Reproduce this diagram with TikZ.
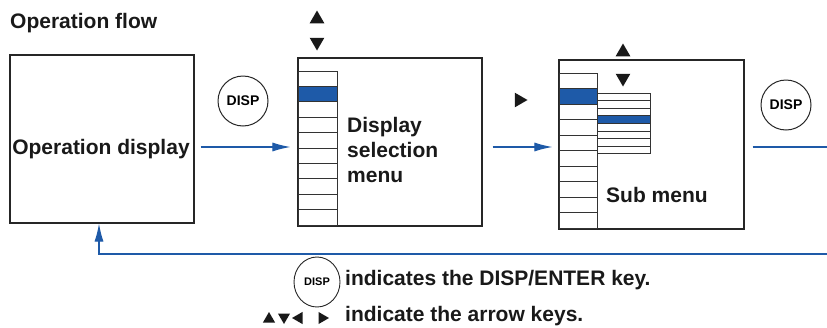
\documentclass[tikz,border=0pt]{standalone}
\usepackage{fontspec}
\setmainfont{Liberation Sans}
\usetikzlibrary{arrows.meta}
\usetikzlibrary{positioning}
\usetikzlibrary{shapes, shapes.geometric}
\definecolor{flowblue}{RGB}{30,90,168}

\begin{document}
\begin{tikzpicture}[
        x=1pt, y=-1pt,
        screen/.style={rectangle, draw=black!85, line width=1.2pt, minimum width=184pt, minimum height=168pt, inner sep=0pt},
        lbl/.style={font=\fontsize{21}{25}\selectfont\bfseries, inner sep=0pt, text=black!90},
        key/.style={circle, draw=black!85, line width=1pt, minimum size=50pt, inner sep=0pt, font=\fontsize{14}{14}\selectfont\bfseries},
        legkey/.style={ellipse, draw=black!85, line width=0.9pt, minimum width=46pt, minimum height=50pt, inner sep=0pt, font=\fontsize{11}{11}\selectfont\bfseries},
        tri/.style={regular polygon, regular polygon sides=3, fill=black!90, inner sep=0pt, minimum size=#1},
        tri/.default=17pt,
        row/.style={draw=black!80, line width=0.8pt},
        flow/.style={draw=flowblue, line width=1.1pt},
        arrow/.style={flow, -{Latex[length=18pt,width=9pt]}}
    ]
    \useasboundingbox (0,0) rectangle (827,327);

    % Title
    \node[lbl, anchor=base west] (title) at (10,28) {Operation flow};

    % Screens
    \node[screen] (opdisp) at (102,139) {};
    \node[screen] (selmenu) at (390,142) {};
    \node[screen, minimum width=185pt, minimum height=169pt] (submenu) at (651.5,144.5) {};

    \node[lbl, anchor=base] (opdisptext) at (101,154) {Operation display};
    \node[lbl, anchor=north west, align=left] (selmenutext) at (347,117) {Display\\selection\\menu};
    \node[lbl, anchor=base west] (submenutext) at (606,202) {Sub menu};

    % Display selection list
    \fill[flowblue] (298,86.4) rectangle (337,101.8);
    \foreach \i in {0,...,9}
        \draw[row] (298,{71+15.4*\i}) rectangle (337,{71+15.4*(\i+1)});

    % Sub menu lists
    \fill[flowblue] (559,88.5) rectangle (597,104);
    \foreach \i in {0,...,9}
        \draw[row] (559,{73+15.5*\i}) rectangle (597,{73+15.5*(\i+1)});
    \fill[flowblue] (597,116) rectangle (650,123.6);
    \foreach \i in {0,...,7}
        \draw[row] (597,{93+7.6*\i}) rectangle (650,{93+7.6*(\i+1)});

    % Arrow keys
    \node[tri] (up1) at (317,19) {};
    \node[tri, rotate=180] (down1) at (317,42) {};
    \node[tri, rotate=-90] (right1) at (519,100) {};
    \node[tri] (up2) at (623,52) {};
    \node[tri, rotate=180] (down2) at (623,78) {};

    % DISP keys
    \node[key] (disp1) at (243,101) {DISP};
    \node[key] (disp2) at (786,105) {DISP};

    % Flow
    \coordinate (flowy) at (0,147);
    \coordinate (rcorner) at (830,254);
    \draw[arrow, shorten <=6pt, shorten >=7pt] (opdisp.east |- flowy) -- (selmenu.west |- flowy);
    \draw[arrow, shorten <=10pt, shorten >=6pt] (selmenu.east |- flowy) -- (submenu.west |- flowy);
    \draw[arrow] ([xshift=8pt]submenu.east |- flowy) -- (flowy -| rcorner) -- (rcorner)
        -- ([xshift=-3pt]opdisp.south |- rcorner) -- ([xshift=-3pt]opdisp.south);

    % Legend
    \node[legkey] (disp3) at (317,282) {DISP};
    \node[lbl, anchor=base west] (legend1) at (345,285) {indicates the DISP/ENTER key.};
    \node[tri=14pt] (legup) at (269,319) {};
    \node[tri=14pt, rotate=180] (legdown) at (284,317) {};
    \node[tri=14pt, rotate=90] (legleft) at (299,318) {};
    \node[tri=14pt, rotate=-90] (legright) at (322,318) {};
    \node[lbl, anchor=base west] (legend2) at (345,321) {indicate the arrow keys.};

\end{tikzpicture}
\end{document}
